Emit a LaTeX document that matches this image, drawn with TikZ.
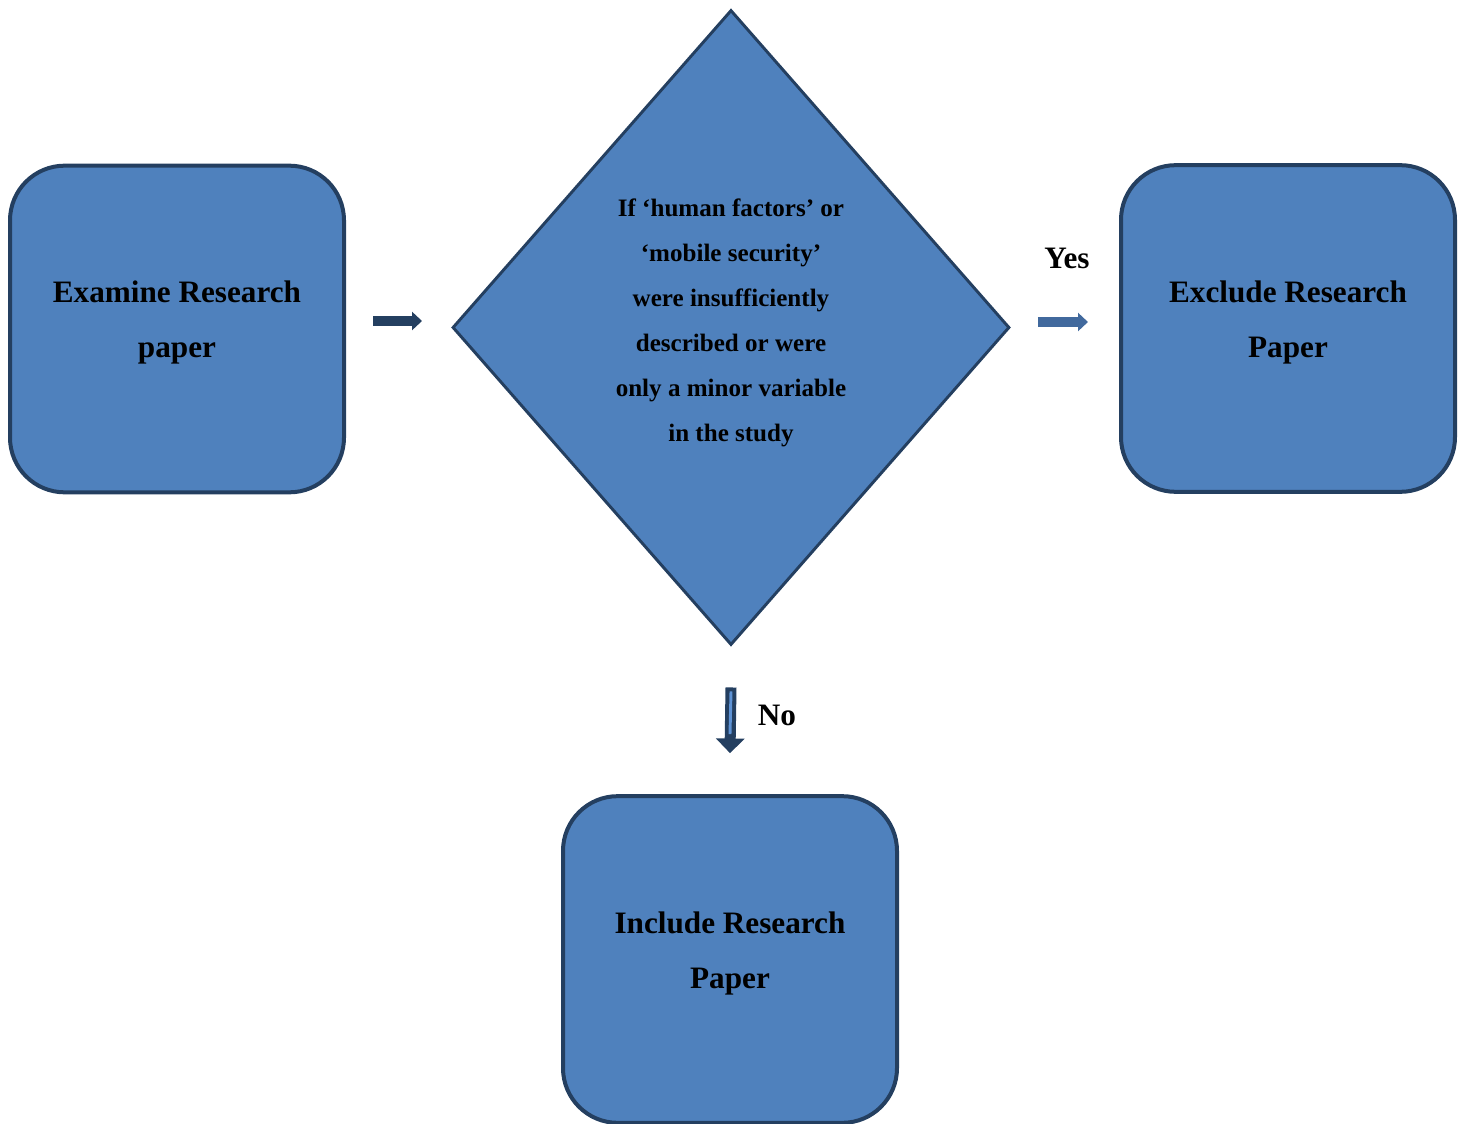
\documentclass[tikz,border=0pt]{standalone}
\usepackage{fontspec}
\setmainfont{Liberation Serif}
\usetikzlibrary{arrows.meta, calc, shapes.geometric}
\definecolor{flowblue}{HTML}{4F81BD}
\definecolor{flowedge}{HTML}{243F60}
\definecolor{flowmid}{HTML}{41699D}
\definecolor{flowlight}{HTML}{5E93D6}

\begin{document}
\begin{tikzpicture}[
    x=0.75pt, y=-0.75pt,
    card/.style={draw=flowedge, line width=3pt, fill=flowblue, rounded corners=41pt,
        minimum width=250.5pt, minimum height=245pt, inner sep=0pt, align=center,
        text depth=14pt, font=\bfseries\fontsize{23.4}{41.25}\selectfont},
    choice/.style={diamond, draw=flowedge, line width=2.2pt, fill=flowblue, inner sep=0pt,
        minimum width=417.75pt, minimum height=476.25pt},
    asktext/.style={align=center, font=\bfseries\fontsize{18.8}{33.75}\selectfont},
    lbl/.style={text=black, font=\bfseries\fontsize{23.4}{28}\selectfont},
    flow/.style={line width=7.5pt, -{Triangle[length=7.5pt, width=13.5pt]}},
    flowdown/.style={line width=8.25pt, -{Triangle[length=11pt, width=21pt]}}]

    \useasboundingbox (0,0) rectangle (1465,1124);

    % ---- the three outcome boxes and the question ----
    \node[card] (examine) at (177, 329) {Examine Research\\paper};
    \node[choice] (ask) at (731, 327.5) {};
    \node[asktext] (asktxt) at (731, 323) {If ‘human factors’ or\\‘mobile security’\\were insufficiently\\described or were\\only a minor variable\\in the study};
    \node[card] (exclude) at (1288, 328.5) {Exclude Research\\Paper};
    \node[card] (include) at (730, 959.5) {Include Research\\Paper};

    % ---- connectors ----
    \draw[flow, flowedge] ($(examine.east)+(27,-8)$) -- ($(ask.west)+(-29,-6.5)$);
    \draw[flow, flowmid] ($(ask.east)+(27,-5.5)$) -- ($(exclude.west)+(-31,-6.5)$)
        node[lbl, midway, above=33pt, xshift=3pt] (yes) {Yes};
    \draw[flowdown, flowedge] ($(ask.south)+(0,41)$) -- ($(include.north)+(0,-41)$)
        node[lbl, midway, right=13pt, yshift=4pt] (no) {No};
    \draw[line width=2.2pt, flowlight] ($(ask.south)+(0,45)$) -- ($(include.north)+(0,-60)$);
\end{tikzpicture}
\end{document}
